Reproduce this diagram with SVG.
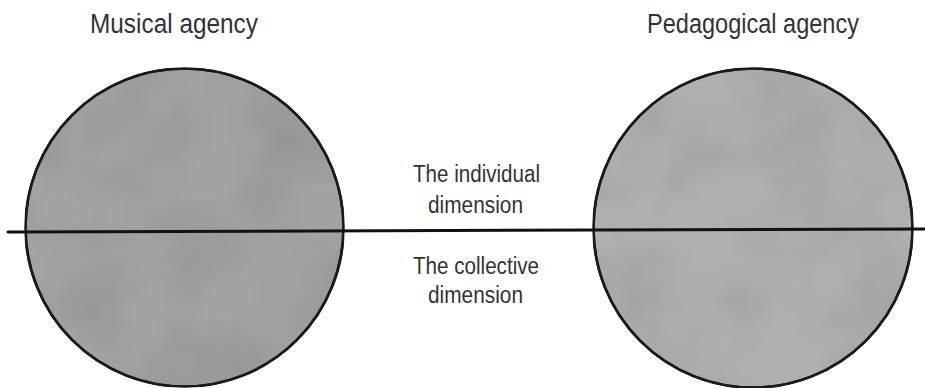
<svg xmlns="http://www.w3.org/2000/svg" width="925" height="388" viewBox="0 0 925 388">
  <style>
    .lbl { font-family: "Liberation Sans", Arial, sans-serif; fill: #333333; }
    .title { font-size: 27px; }
    .mid { font-size: 23px; text-anchor: middle; }
    .disc { stroke: #1a1a1a; stroke-width: 2.5; }
  </style>
  <defs>
    <filter id="mottle" x="0" y="0" width="100%" height="100%">
      <feTurbulence type="fractalNoise" baseFrequency="0.012" numOctaves="3" seed="4" result="n"/>
      <feColorMatrix in="n" type="matrix" values="0 0 0 0 0  0 0 0 0 0  0 0 0 0 0  0.3 0 0 0 -0.1" result="shade"/>
      <feComposite in="shade" in2="SourceGraphic" operator="in" result="s2"/>
      <feMerge><feMergeNode in="SourceGraphic"/><feMergeNode in="s2"/></feMerge>
    </filter>
  </defs>
  <rect width="925" height="388" fill="#ffffff"/>
  <g id="musical-agency">
    <circle class="disc" cx="184.5" cy="227.5" r="159" fill="#a3a3a3" filter="url(#mottle)"/>
    <circle cx="184.5" cy="227.5" r="159" fill="none" class="disc"/>
    <text class="lbl title" x="90" y="33" textLength="168" lengthAdjust="spacingAndGlyphs">Musical agency</text>
  </g>
  <g id="pedagogical-agency">
    <circle class="disc" cx="753" cy="228" r="159.5" fill="#b0b0b0" filter="url(#mottle)"/>
    <circle cx="753" cy="228" r="159.5" fill="none" class="disc"/>
    <text class="lbl title" x="647" y="33" textLength="212" lengthAdjust="spacingAndGlyphs">Pedagogical agency</text>
  </g>
  <g id="individual-dimension">
    <text class="lbl mid" x="476.5" y="182" textLength="127" lengthAdjust="spacingAndGlyphs">The individual</text>
    <text class="lbl mid" x="475.5" y="213" textLength="95" lengthAdjust="spacingAndGlyphs">dimension</text>
  </g>
  <g id="collective-dimension">
    <text class="lbl mid" x="476" y="274" textLength="126" lengthAdjust="spacingAndGlyphs">The collective</text>
    <text class="lbl mid" x="475.5" y="303" textLength="95" lengthAdjust="spacingAndGlyphs">dimension</text>
  </g>
  <g id="connectors">
    <line x1="8" y1="232" x2="925" y2="229" stroke="#111111" stroke-width="3" stroke-linecap="round"/>
  </g>
</svg>
